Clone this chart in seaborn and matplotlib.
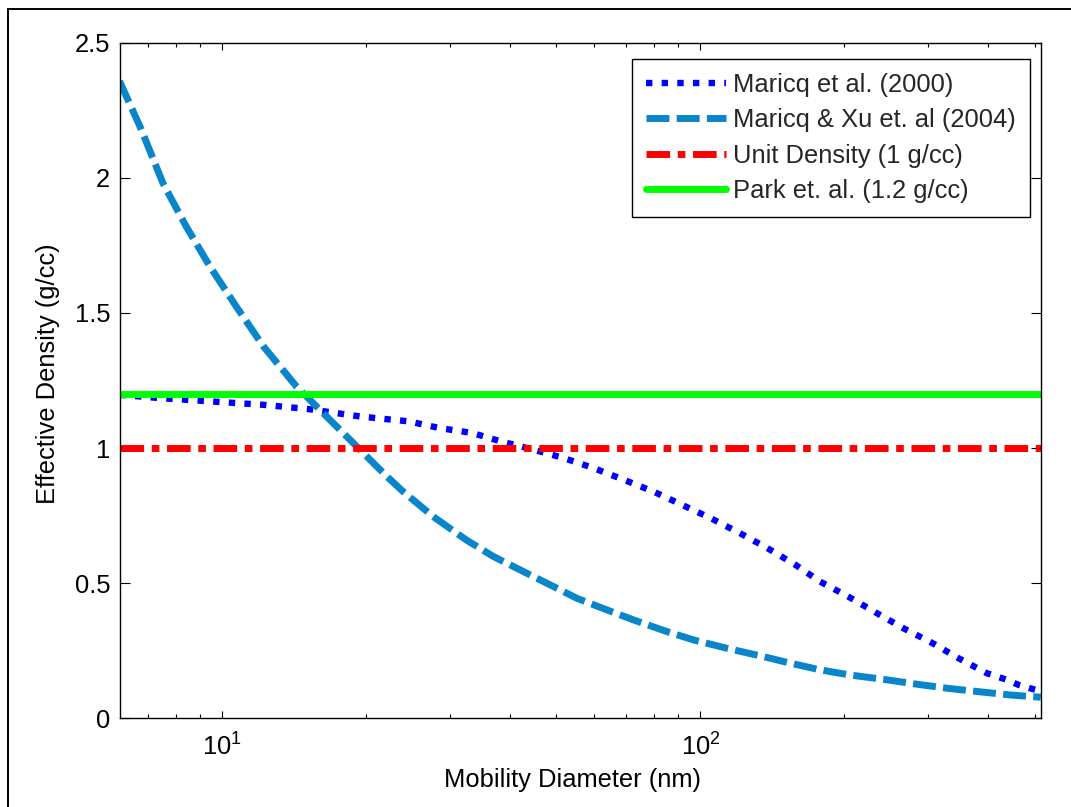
import matplotlib
matplotlib.use("Agg")
import matplotlib.pyplot as plt
from matplotlib.lines import Line2D
from matplotlib.ticker import FuncFormatter, LogLocator, NullFormatter
import seaborn as sns

# Effective density of soot particles versus mobility diameter
MARICQ_2000_DP = [6.1, 7.4, 9.4, 12.2, 15.2, 19.4, 24.5, 28.5, 33.3, 38.4, 44.8,
                  51.8, 59.8, 69.1, 79.8, 91.5, 105, 121, 138, 158, 178, 204, 234,
                  266, 306, 347, 397, 435, 464, 503, 515]
MARICQ_2000_RHO = [1.197, 1.185, 1.173, 1.160, 1.144, 1.117, 1.099, 1.074, 1.056,
                   1.024, 0.994, 0.963, 0.926, 0.883, 0.839, 0.790, 0.741, 0.685,
                   0.630, 0.568, 0.506, 0.450, 0.389, 0.333, 0.278, 0.222, 0.167,
                   0.144, 0.123, 0.105, 0.100]

MARICQ_XU_2004_DP = [6.1, 6.77, 7.52, 8.41, 9.42, 10.7, 12.2, 14.3, 15.75, 18.5,
                     22.1, 23.9, 27.6, 32.4, 36.9, 42.0, 48.5, 55.2, 63.8, 72.5,
                     85.1, 96.8, 113.7, 135.7, 154.3, 178.3, 206, 242, 284, 329,
                     380, 446, 515]
MARICQ_XU_2004_RHO = [2.358, 2.18, 1.98, 1.82, 1.673, 1.524, 1.376, 1.228, 1.154,
                      1.031, 0.895, 0.839, 0.747, 0.660, 0.599, 0.549, 0.494, 0.444,
                      0.401, 0.364, 0.321, 0.290, 0.259, 0.228, 0.204, 0.179, 0.160,
                      0.144, 0.126, 0.111, 0.099, 0.086, 0.078]

DP_RANGE = [6.1, 515]
UNIT_RHO = [1.0, 1.0]
PARK_RHO = [1.2, 1.2]

LABELS = ["Maricq et al. (2000)", "Maricq & Xu et. al (2004)",
          "Unit Density (1 g/cc)", "Park et. al. (1.2 g/cc)"]
Y_TICKS = [0, 0.5, 1, 1.5, 2, 2.5]

sns.set_theme(style="white")
plt.rcParams["font.family"] = ["Liberation Sans", "DejaVu Sans"]
plt.rcParams["mathtext.fontset"] = "custom"
plt.rcParams["mathtext.rm"] = "Liberation Sans"

FS = 18.4
W, H = 1071, 807
fig = plt.figure(figsize=(W / 100, H / 100), dpi=100)
fig.patch.set_facecolor("white")
ax = fig.add_axes([119.5 / W, 1 - 718.3 / H, (1040.7 - 119.5) / W, (718.3 - 42.7) / H])

sns.lineplot(x=MARICQ_2000_DP, y=MARICQ_2000_RHO, ax=ax, color="#0000FF",
             linewidth=4.6, linestyle=(0, (1.0, 1.45)), label=LABELS[0],
             estimator=None, sort=False)
sns.lineplot(x=MARICQ_XU_2004_DP, y=MARICQ_XU_2004_RHO, ax=ax, color="#0986C9",
             linewidth=5.0, linestyle=(0, (3.3, 1.05)), label=LABELS[1],
             estimator=None, sort=False)
sns.lineplot(x=DP_RANGE, y=UNIT_RHO, ax=ax, color="#FF0000",
             linewidth=5.0, linestyle=(0, (3.4, 1.1, 1.1, 1.1)), label=LABELS[2],
             estimator=None, sort=False)
sns.lineplot(x=DP_RANGE, y=PARK_RHO, ax=ax, color="#00FF00",
             linewidth=5.0, linestyle="-", label=LABELS[3],
             estimator=None, sort=False)

ax.set_xscale("log")
ax.set_xlim(DP_RANGE[0], DP_RANGE[1])
ax.set_ylim(0, 2.5)
ax.set_yticks(Y_TICKS)
ax.yaxis.set_major_formatter(FuncFormatter(lambda v, p: f"{v:g}"))
ax.xaxis.set_major_locator(LogLocator(base=10))
ax.xaxis.set_minor_locator(LogLocator(base=10, subs=range(2, 10)))
ax.xaxis.set_minor_formatter(NullFormatter())
ax.grid(False)

for s in ax.spines.values():
    s.set_color("black")
    s.set_linewidth(1.0)

ax.tick_params(axis="both", which="both", direction="in", top=True, right=True,
               bottom=True, left=True, color="black", labelcolor="black",
               labelsize=FS, width=0.8)
ax.tick_params(axis="x", which="major", length=5, pad=11)
ax.tick_params(axis="x", which="minor", length=3)
ax.tick_params(axis="y", which="major", length=7.5, pad=6.8)

ax.set_xlabel("Mobility Diameter (nm)", fontsize=FS, color="black")
ax.set_ylabel("Effective Density (g/cc)", fontsize=FS, color="black")
ax.xaxis.set_label_coords((573 - 119.5) / 921.2, -0.074)
ax.yaxis.set_label_coords(-0.0646, 0.51)

leg = ax.legend(loc="upper right", bbox_to_anchor=(0.9884, 0.9763),
                borderaxespad=0, frameon=True, fancybox=False, framealpha=1,
                edgecolor="black", fontsize=FS, handlelength=3.1,
                handletextpad=0.3, labelspacing=0.45, borderpad=0.55)
leg.get_frame().set_linewidth(1.0)

# outer frame of the figure
fig.add_artist(Line2D([8 / W, 1], [1 - 9 / H, 1 - 9 / H], color="black",
                      linewidth=1.4, transform=fig.transFigure))
fig.add_artist(Line2D([8 / W, 8 / W], [0, 1 - 9 / H], color="black",
                      linewidth=1.4, transform=fig.transFigure))

fig.savefig("out.png", dpi=100, facecolor="white")
